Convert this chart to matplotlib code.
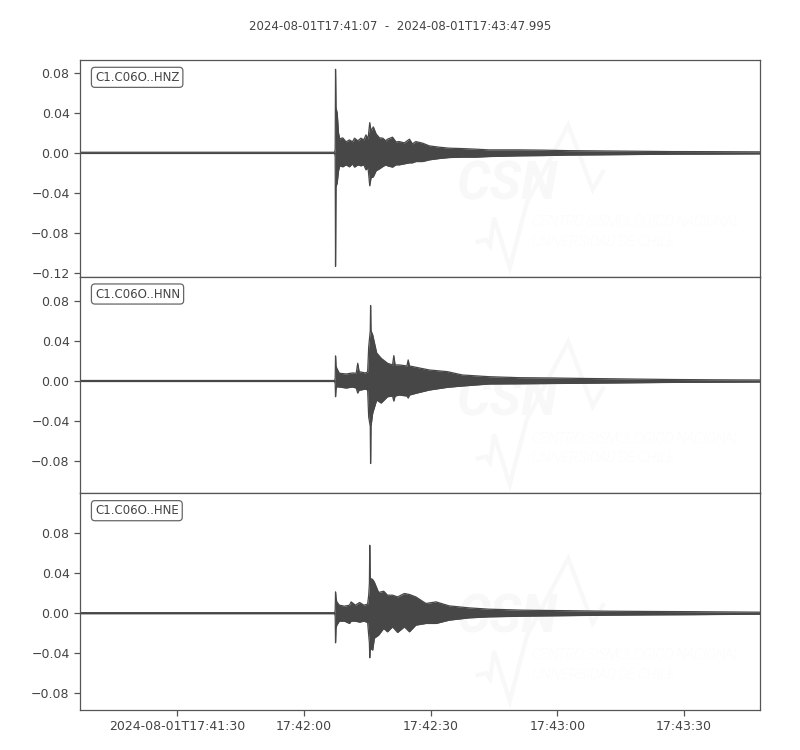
import matplotlib
matplotlib.use("Agg")
import matplotlib.pyplot as plt

# ---------------- data ----------------
title_text = "2024-08-01T17:41:07  -  2024-08-01T17:43:47.995"
channels = ["C1.C06O..HNZ", "C1.C06O..HNN", "C1.C06O..HNE"]
duration = 160.995  # seconds after 17:41:07

xtick_seconds = [23, 53, 83, 113, 143]
xtick_labels = ["2024-08-01T17:41:30", "17:42:00", "17:42:30", "17:43:00", "17:43:30"]

# envelope of each trace: time (s after start), upper and lower amplitude
t_z = [0, 60.3, 60.42, 60.5, 60.62, 60.9, 61.2, 61.5, 62.2, 63.0,
       63.8, 64.5, 65.0, 65.8, 66.5, 67.2, 67.7, 68.2, 68.6, 68.9,
       69.45, 70.1, 70.9, 71.7, 72.4, 72.8, 74.0, 74.8, 75.6, 76.8,
       78.0, 78.7, 79.5, 81.1, 82.7, 85.0, 87.4, 90.5, 93.7, 96.8,
       103.9, 110, 115.8, 122, 130, 140, 150, 161]
up_z = [0.0006, 0.0006, 0.004, 0.0837, 0.045, 0.040, 0.020, 0.014, 0.015, 0.011,
        0.013, 0.011, 0.0147, 0.012, 0.0147, 0.013, 0.018, 0.014, 0.0303, 0.022,
        0.026, 0.019, 0.015, 0.0147, 0.012, 0.0137, 0.0157, 0.011, 0.0113, 0.010,
        0.0137, 0.009, 0.0113, 0.0097, 0.007, 0.0057, 0.0047, 0.0043, 0.0037, 0.003,
        0.003, 0.0027, 0.0022, 0.002, 0.0017, 0.0013, 0.0012, 0.001]
lo_z = [-0.0006, -0.0006, -0.004, -0.1137, -0.034, -0.030, -0.018, -0.013, -0.014, -0.012,
        -0.014, -0.011, -0.0143, -0.012, -0.013, -0.012, -0.017, -0.015, -0.033, -0.025,
        -0.024, -0.018, -0.016, -0.0137, -0.012, -0.013, -0.0143, -0.012, -0.012, -0.011,
        -0.010, -0.010, -0.0087, -0.0087, -0.007, -0.0057, -0.0047, -0.0043, -0.0043, -0.0037,
        -0.003, -0.0027, -0.0022, -0.002, -0.0017, -0.0013, -0.0012, -0.001]

t_n = [0, 60.3, 60.42, 60.5, 60.62, 60.8, 61.4, 63.0, 64.5, 65.4,
       65.75, 66.1, 66.5, 67.5, 68.1, 68.35, 68.72, 68.8, 68.9, 69.3,
       70.24, 71.3, 72.8, 74.0, 74.3, 74.6, 75.6, 77.4, 77.7, 78.0,
       79.5, 82.7, 87.0, 90.5, 96.8, 104, 112, 120, 130, 140,
       150, 161]
up_n = [0.0005, 0.0005, 0.003, 0.025, 0.015, 0.0127, 0.0077, 0.007, 0.008, 0.0077,
        0.0177, 0.009, 0.009, 0.008, 0.009, 0.034, 0.05, 0.0753, 0.05, 0.046,
        0.028, 0.0227, 0.0177, 0.016, 0.0253, 0.016, 0.016, 0.015, 0.021, 0.015,
        0.0137, 0.011, 0.0093, 0.006, 0.0043, 0.0033, 0.003, 0.0025, 0.002, 0.0015,
        0.0012, 0.001]
lo_n = [-0.0005, -0.0005, -0.003, -0.0157, -0.008, -0.0057, -0.006, -0.007, -0.006, -0.007,
        -0.012, -0.009, -0.009, -0.008, -0.009, -0.036, -0.045, -0.0823, -0.045, -0.032,
        -0.019, -0.022, -0.0157, -0.015, -0.02, -0.015, -0.014, -0.015, -0.017, -0.014,
        -0.0123, -0.009, -0.0063, -0.005, -0.003, -0.0028, -0.0025, -0.0022, -0.0018, -0.0014,
        -0.0012, -0.001]

t_e = [0, 60.3, 60.42, 60.5, 60.62, 60.8, 61.4, 62.6, 63.8, 64.2,
       65.2, 66.2, 67.2, 68.1, 68.35, 68.52, 68.6, 68.7, 69.3, 69.7,
       70.7, 71.9, 72.8, 74.0, 75.2, 76.8, 78.0, 79.5, 81.9, 84.3,
       87.4, 92.1, 96.8, 105, 115, 125, 135, 145, 161]
up_e = [0.0005, 0.0005, 0.003, 0.0213, 0.015, 0.0113, 0.008, 0.007, 0.008, 0.0113,
        0.008, 0.0107, 0.008, 0.009, 0.018, 0.03, 0.068, 0.035, 0.0337, 0.031,
        0.0207, 0.022, 0.018, 0.018, 0.0163, 0.0197, 0.0187, 0.0163, 0.0097, 0.0113,
        0.0073, 0.0053, 0.004, 0.003, 0.0025, 0.002, 0.0017, 0.0015, 0.001]
lo_e = [-0.0005, -0.0005, -0.003, -0.0297, -0.015, -0.012, -0.008, -0.008, -0.0103, -0.008,
        -0.008, -0.009, -0.008, -0.0093, -0.022, -0.03, -0.0447, -0.035, -0.037, -0.025,
        -0.022, -0.0153, -0.0187, -0.0137, -0.0193, -0.0137, -0.0187, -0.012, -0.0103, -0.0103,
        -0.007, -0.0047, -0.0037, -0.003, -0.0025, -0.002, -0.0017, -0.0015, -0.001]

yticks_z = [-0.12, -0.08, -0.04, 0.00, 0.04, 0.08]
yticks_n = [-0.08, -0.04, 0.00, 0.04, 0.08]
yticks_e = [-0.08, -0.04, 0.00, 0.04, 0.08]

# ---------------- drawing ----------------
TRACE = "#474747"
SPINE = "#555555"
TEXT = "#444444"
WM = "#f8f8f8"

fig = plt.figure(figsize=(8, 7.5), dpi=100)
fig.subplots_adjust(left=0.10, right=0.95, top=0.92, bottom=0.0533, hspace=0)
axes = fig.subplots(3, 1, sharex=True)

traces = [(t_z, up_z, lo_z), (t_n, up_n, lo_n), (t_e, up_e, lo_e)]
yticks = [yticks_z, yticks_n, yticks_e]
ylims = [(-0.124, 0.093), (-0.112, 0.104), (-0.097, 0.120)]

wm_x = [0.585, 0.597, 0.603, 0.609, 0.632, 0.657, 0.718, 0.754, 0.769]
wm_y = [0.161, 0.171, 0.143, 0.272, 0.041, 0.341, 0.700, 0.401, 0.484]

for i, ax in enumerate(axes):
    t, up, lo = traces[i]
    # faint watermark
    ax.plot(wm_x, wm_y, color=WM, lw=3, transform=ax.transAxes, zorder=0,
            solid_joinstyle="miter")
    ax.text(0.628, 0.424, "CSN", transform=ax.transAxes, ha="center", va="center",
            fontsize=38, fontweight="bold", style="italic", color=WM,
            family="Roboto", zorder=0)
    ax.text(0.665, 0.253, "CENTRO SISMOLÓGICO NACIONAL", transform=ax.transAxes,
            ha="left", va="center", fontsize=10, style="italic", color=WM,
            family="Roboto", fontweight="light", zorder=0)
    ax.text(0.665, 0.161, "UNIVERSIDAD DE CHILE", transform=ax.transAxes,
            ha="left", va="center", fontsize=10, style="italic", color=WM,
            family="Roboto", fontweight="light", zorder=0)

    ax.fill_between(t, lo, up, color=TRACE, lw=0, zorder=2)
    ax.plot(t, up, color=TRACE, lw=0.9, zorder=2)
    ax.plot(t, lo, color=TRACE, lw=0.9, zorder=2)

    ax.set_xlim(0, duration)
    ax.set_ylim(*ylims[i])
    ax.set_yticks(yticks[i])
    ax.set_yticklabels([f"{v:.2f}".replace("-", "\u2212") for v in yticks[i]])
    ax.tick_params(axis="y", labelsize=9, labelcolor=TEXT, color=SPINE,
                   length=4, width=0.9)
    for s in ax.spines.values():
        s.set_color(SPINE)
        s.set_linewidth(0.9)
    ax.text(0.022, 0.95, channels[i], transform=ax.transAxes, ha="left", va="top",
            fontsize=8.5, color=TEXT, zorder=5,
            bbox=dict(boxstyle="round,pad=0.3", fc="white", ec="#666666", lw=0.9))
    if i < 2:
        ax.tick_params(axis="x", bottom=False, labelbottom=False)

axes[-1].set_xticks(xtick_seconds)
axes[-1].set_xticklabels(xtick_labels)
axes[-1].tick_params(axis="x", labelsize=9, labelcolor=TEXT, color=SPINE,
                     length=4, width=0.9)

fig.suptitle(title_text, y=0.973, fontsize=8.5, color=TEXT)

fig.savefig("out.png", dpi=100)
